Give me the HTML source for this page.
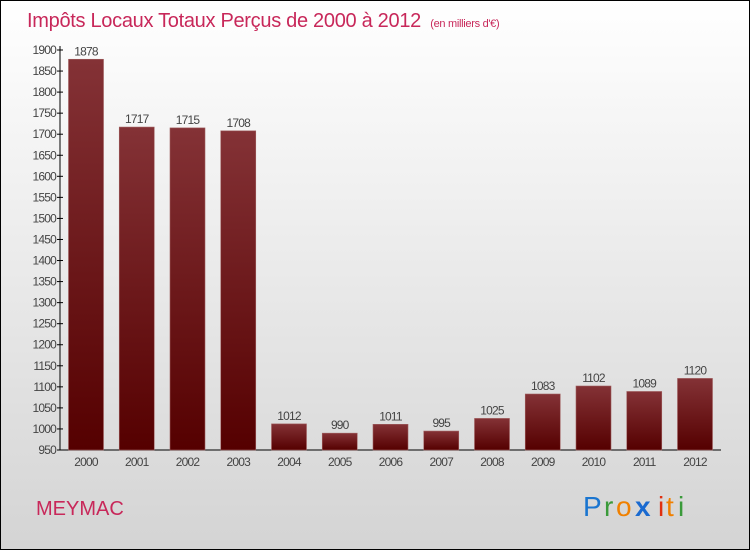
<!DOCTYPE html>
<html><head><meta charset="utf-8"><style>
body{margin:0;width:750px;height:550px;overflow:hidden;font-family:"Liberation Sans",sans-serif}
#root{position:absolute;left:0;top:0;width:748px;height:548px;border:1px solid #000;background:linear-gradient(#ffffff,#d4d4d4)}
svg{position:absolute;left:0;top:0}
</style></head><body>
<div id="root"></div>
<svg width="750" height="550">
<defs><linearGradient id="bg" x1="0" y1="0" x2="0" y2="1"><stop offset="0" stop-color="#843236"/><stop offset="1" stop-color="#550000"/></linearGradient></defs>
<text x="27" y="27" font-size="20" fill="#c8285a" letter-spacing="-0.3">Impôts Locaux Totaux Perçus de 2000 à 2012 <tspan font-size="11" dx="4">(en milliers d'€)</tspan></text>
<g id="axes"></g><g id="bars"></g>
<text x="36" y="515" font-size="20" fill="#c8285a">MEYMAC</text>
<g font-size="28">
<text x="583" y="516" fill="#1a75d0">P</text><text x="604" y="516" fill="#3a9a3a">r</text><text x="616" y="516" fill="#f08000">o</text><text x="635" y="516" fill="#1a6ad0" font-weight="bold">x</text><text x="658" y="516" fill="#e03010">i</text><text x="666" y="516" fill="#f08000">t</text><text x="678" y="516" fill="#3a9a3a">i</text>
</g>
</svg>
<script>
const years=["2000","2001","2002","2003","2004","2005","2006","2007","2008","2009","2010","2011","2012"];
const values=[1878,1717,1715,1708,1012,990,1011,995,1025,1083,1102,1089,1120];
const yTicks=[950,1000,1050,1100,1150,1200,1250,1300,1350,1400,1450,1500,1550,1600,1650,1700,1750,1800,1850,1900];
const ns="http://www.w3.org/2000/svg";
const y=v=>450-(v-950)*400/950;
const xc=i=>86+i*50.75;
function mk(t,a,p){const e=document.createElementNS(ns,t);for(const k in a)e.setAttribute(k,a[k]);p.appendChild(e);return e;}
const ax=document.getElementById('axes'),bg=document.getElementById('bars');
const ya=mk('line',{x1:60,y1:46,x2:60,y2:450,stroke:'#000'},ax);


const xa=mk('line',{x1:60,y1:450,x2:721,y2:450,stroke:'#000'},ax);


yTicks.forEach(v=>{
 mk('line',{x1:57,x2:63,y1:y(v),y2:y(v),stroke:'#000'},ax);
 const t=mk('text',{x:56,y:y(v)+4,'font-size':12,fill:'#444','text-anchor':'end','letter-spacing':'-0.8'},ax);
 t.textContent=v;
 
 
});
years.forEach((yr,i)=>{
 const r=mk('rect',{x:xc(i)-17.5,y:y(values[i]),width:35,height:450-y(values[i]),fill:'url(#bg)',stroke:'#a06060','stroke-width':0.6},bg);
 
 
 const l=mk('text',{x:xc(i),y:y(values[i])-4,'font-size':12,fill:'#444','text-anchor':'middle','letter-spacing':'-0.8'},bg);
 l.textContent=values[i];
 
 
 const xl=mk('text',{x:xc(i),y:466,'font-size':12,fill:'#444','text-anchor':'middle','letter-spacing':'-0.8'},bg);
 xl.textContent=yr;
 
 
});
</script>
</body></html>
